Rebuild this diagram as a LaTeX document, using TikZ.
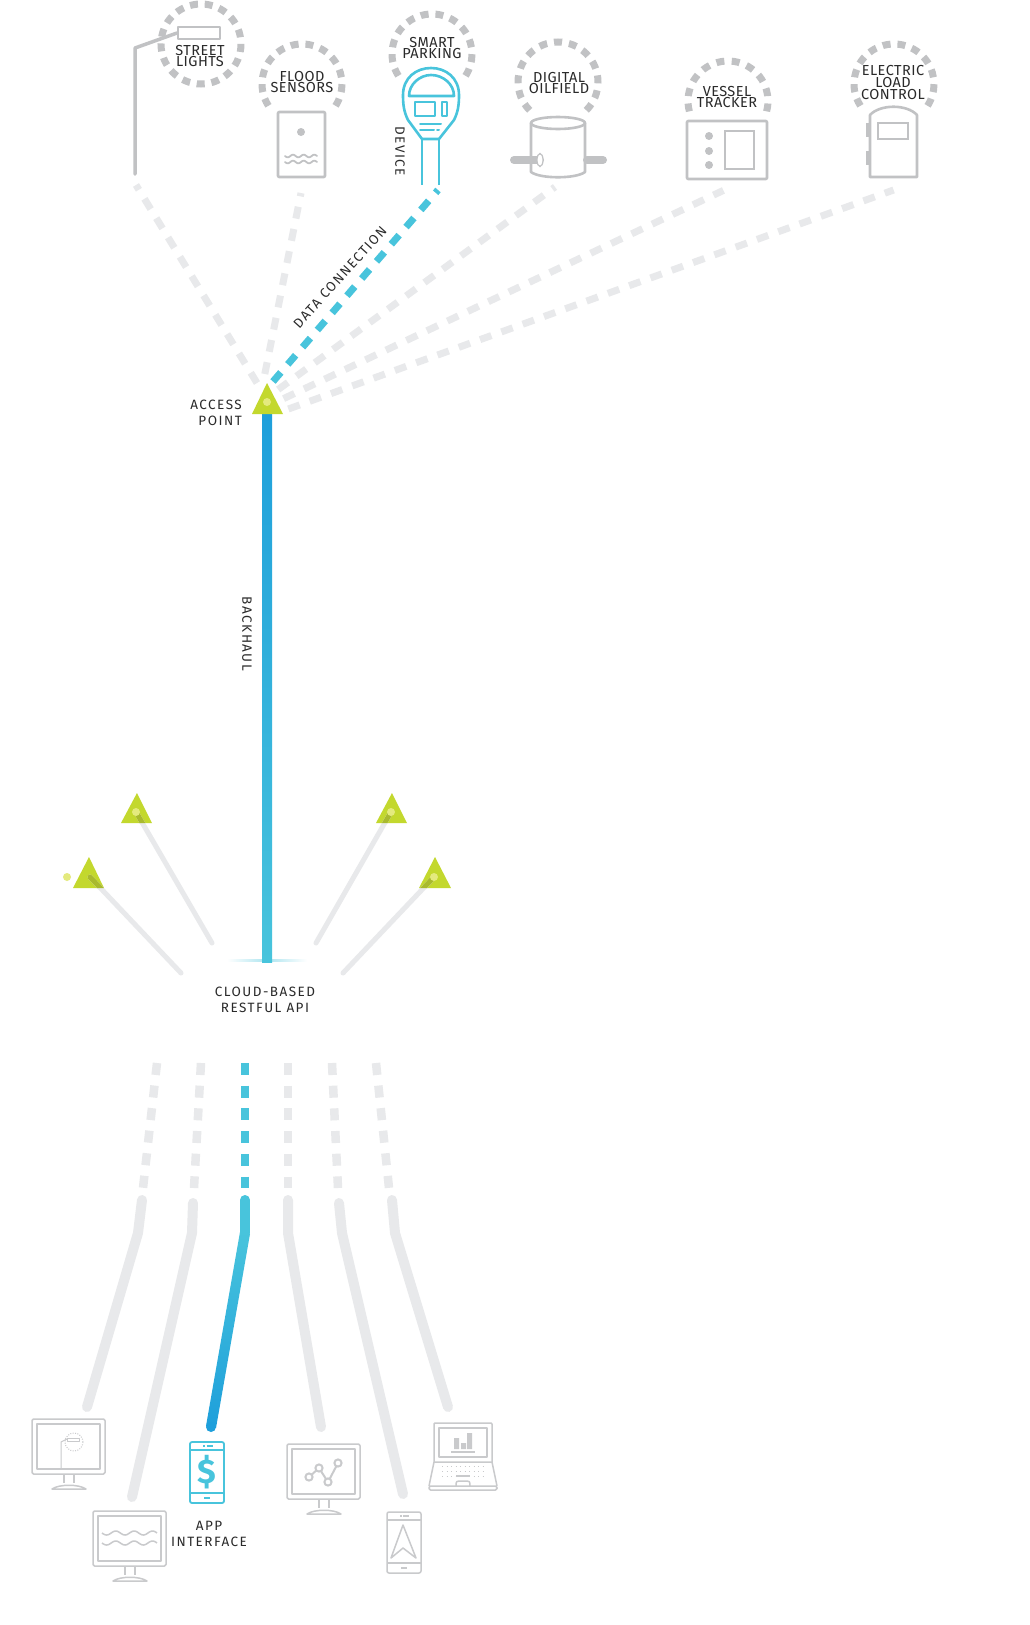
\documentclass[tikz,border=0pt]{standalone}
\usepackage{fontspec}
\setmainfont{Fira Sans}
\newfontfamily\toplab[LetterSpace=3]{Fira Sans}
\newfontfamily\sidelab[LetterSpace=11]{Fira Sans}
\definecolor{devgrey}{HTML}{C1C2C4}
\definecolor{icongrey}{HTML}{C9CACC}
\definecolor{pale}{HTML}{E8E9EB}
\definecolor{aqua}{HTML}{48C4DC}
\definecolor{deepblue}{HTML}{1E9FDB}
\definecolor{lime}{HTML}{C3D82E}
\definecolor{limedark}{HTML}{A9BA2E}
\definecolor{limedot}{HTML}{E4EA7E}
\definecolor{ink}{HTML}{2A2A2A}
\tikzset{
  halo/.style={draw=devgrey,line width=7pt},
  dev/.style={draw=devgrey,line width=2.6pt,line join=round,line cap=round},
  devblue/.style={draw=aqua,line width=2.6pt,line join=round,line cap=round},
  thin icon/.style={draw=icongrey,line width=1.5pt,line join=round},
  paledash/.style={draw=pale,line width=7pt,dash pattern=on 12pt off 10.65pt},
  bluedash/.style={draw=aqua,line width=7pt,dash pattern=on 12pt off 10.65pt},
  lowdash/.style={draw=pale,line width=8.5pt,dash pattern=on 12pt off 10.7pt},
  lowbluedash/.style={draw=aqua,line width=8.5pt,dash pattern=on 12pt off 10.7pt},
  lowline/.style={draw=pale,line width=10pt,line cap=round,line join=round},
  spoke/.style={draw=pale,line width=5pt,line cap=round},
  spokedark/.style={draw=limedark,line width=5pt,line cap=round},
  ap/.style={fill=lime,draw=none},
  apdot/.style={fill=limedot,draw=none},
  toptext/.style={font=\toplab\fontsize{14.5}{14.5}\selectfont,text=ink,inner sep=0pt,anchor=center},
  sidetext/.style={font=\sidelab\fontsize{13.5}{13.5}\selectfont,text=ink,inner sep=0pt},
}
% centre x, centre y, start angle, end angle, gap of the dash pattern
\newcommand{\haloarc}[5]{\draw[halo,dash pattern=on 8pt off #5pt] ($(#1,#2)+(#3:40)$) arc[start angle=#3,end angle=#4,radius=40];}
\newcommand{\monitorbody}[2]{%
  \begin{scope}[shift={(#1,#2)}]
    \draw[thin icon,rounded corners=1.5pt] (0,0) rectangle (73,55);
    \draw[thin icon] (5,5) rectangle (68,50);
    \draw[thin icon] (32,55) -- (32,64) (42,55) -- (42,64);
    \draw[thin icon] (20,70) .. controls (27,65) and (47,65) .. (54,70) -- cycle;
  \end{scope}}
\newcommand{\apspoke}[3]{% triangle path, from, to
  \draw[spoke] (#2) -- (#3);
  \begin{scope}
    \clip #1;
    \draw[spokedark] (#2) -- (#3);
  \end{scope}}
\usetikzlibrary{calc}
\begin{document}
\begin{tikzpicture}[x=1pt,y=-1pt]
\useasboundingbox[fill=white] (0,0) rectangle (1030,1625);

% named points
\coordinate (devLamp) at (136,185);
\coordinate (devFlood) at (301,193);
\coordinate (devPark) at (438,190);
\coordinate (devOil) at (555,187);
\coordinate (devVessel) at (723.4,190.4);
\coordinate (devLoad) at (893.6,190);
\coordinate (apLamp) at (257,383);
\coordinate (apFlood) at (264.8,374);
\coordinate (apPark) at (273,381.5);
\coordinate (apOil) at (278.2,389.5);
\coordinate (apVessel) at (283.6,398.6);
\coordinate (apLoad) at (288.4,409);
\coordinate (apMain) at (267,413);
\coordinate (cloudTop) at (267,962);
\coordinate (cloudA) at (181,973);
\coordinate (cloudB) at (212,943);
\coordinate (cloudC) at (316,943);
\coordinate (cloudD) at (343,973);

% dashed data connections
\draw[paledash] (apLamp) -- (devLamp);
\draw[paledash] (apFlood) -- (devFlood);
\draw[paledash] (apOil) -- (devOil);
\draw[paledash] (apVessel) -- (devVessel);
\draw[paledash] (apLoad) -- (devLoad);
\draw[bluedash] (apPark) -- (devPark);

% halos
\haloarc{201}{44}{0}{360}{6.78}
\haloarc{302}{84}{147}{393}{6.88}
\haloarc{432}{54}{147}{393}{6.88}
\haloarc{558}{82}{135}{405}{7.04}
\haloarc{728}{101}{165}{375}{7.4}
\haloarc{894}{84}{147}{393}{6.88}

% street light
\draw[dev,line width=3.5pt] (135,174) -- (135,48) -- (177,33);
\draw[dev,fill=white] (178,27) rectangle (220,39);
% flood sensor
\draw[dev,fill=white,rounded corners=1pt] (278,112) rectangle (325,177);
\fill[devgrey] (301,132) circle (4);
\draw[dev,line width=1.8pt] plot[domain=285:317,samples=60] (\x,{156+1.3*sin(33.75*(\x-285))});
\draw[dev,line width=1.8pt] plot[domain=285:317,samples=60] (\x,{162+1.3*sin(33.75*(\x-285))});
% parking meter
\draw[devblue,fill=white] (422,139) -- (408,120) .. controls (404,112) and (403,105) .. (403,95) .. controls (403,78) and (416,68) .. (431,68) .. controls (446,68) and (459,78) .. (459,95) .. controls (459,105) and (458,112) .. (454,120) -- (439,139) -- cycle;
\draw[devblue] (409,96) .. controls (409,84) and (420,75) .. (431,75) .. controls (443,75) and (454,84) .. (454,96) -- cycle;
\draw[devblue] (415,102) rectangle (435,116);
\draw[devblue] (442,102) rectangle (447,116);
\draw[devblue,line width=2pt] (420,124) -- (441,124) (420,130) -- (434,130) (437,130) -- (439,130);
\draw[devblue,line cap=butt] (422,139) -- (422,185) (439,139) -- (439,185);
% oilfield
\draw[dev,fill=white] (531,123) -- (531,172) .. controls (540,179) and (576,179) .. (585,172) -- (585,123);
\draw[dev,fill=white] (558,123) ellipse (27 and 6);
\draw[devgrey,line width=8pt,line cap=round] (514,160) -- (540,160);
\draw[devgrey,line width=8pt,line cap=round] (587,160) -- (603,160);
\draw[devgrey,line width=1.2pt,fill=white] (540,160) ellipse (3 and 6.5);
% vessel tracker
\draw[dev,fill=white,rounded corners=1pt] (687,121) rectangle (767,179);
\foreach \yy in {136,151,165}{\fill[devgrey] (709,\yy) circle (4);}
\draw[devgrey,line width=1.4pt] (725,131) rectangle (754,169);
% electric load
\draw[dev,fill=white] (870,177) -- (870,115) .. controls (880,104) and (907,104) .. (917,115) -- (917,177) -- cycle;
\draw[devgrey,line width=1.4pt] (878,123) rectangle (908,139);
\fill[devgrey] (866,123) rectangle (869,137);
\fill[devgrey] (866,151) rectangle (869,165);

% device labels
\node[toptext] (tStreet) at (200,51) {STREET};
\node[toptext] (tLights) at (200,62) {LIGHTS};
\node[toptext] (tFlood) at (302,77) {FLOOD};
\node[toptext] (tSensors) at (302,88) {SENSORS};
\node[toptext] (tSmart) at (432,43) {SMART};
\node[toptext] (tParking) at (432,54) {PARKING};
\node[toptext] (tDigital) at (559,78) {DIGITAL};
\node[toptext] (tOil) at (559,89) {OILFIELD};
\node[toptext] (tVessel) at (727,92) {VESSEL};
\node[toptext] (tTracker) at (727,103) {TRACKER};
\node[toptext] (tElectric) at (893,71) {ELECTRIC};
\node[toptext] (tLoad) at (893,83) {LOAD};
\node[toptext] (tControl) at (893,95) {CONTROL};
\node[sidetext,rotate=-90] (tDevice) at (400,151) {DEVICE};
\node[sidetext,rotate=48] (tData) at (340,277) {DATA CONNECTION};
\node[sidetext,anchor=east] (tAccess) at (242,404.5) {ACCESS};
\node[sidetext,anchor=east] (tPoint) at (242,421) {POINT};
\node[sidetext,rotate=-90] (tBack) at (247,634) {BACKHAUL};
\node[sidetext] (tCloud) at (265,992) {CLOUD-BASED};
\node[sidetext] (tRest) at (265,1008) {RESTFUL API};
\node[sidetext] (tApp) at (209,1526) {APP};
\node[sidetext] (tIface) at (209,1542) {INTERFACE};

% backhaul
\shade[top color=white,bottom color=white,middle color=aqua!45,shading angle=90] (227,959.5) rectangle (307,961.5);
\shade[top color=deepblue,bottom color=aqua] ($(apMain)+(-5,0)$) rectangle ($(cloudTop)+(5,0)$);

% access points
\fill[ap] (267,383) -- (283,414) -- (252,414) -- cycle;
\fill[apdot] (267,402) circle (4);
\fill[ap] (137,793) -- (152,823) -- (121,823) -- cycle;
\fill[ap] (392,793) -- (407,823) -- (376,823) -- cycle;
\fill[ap] (89,857) -- (104,888) -- (73,888) -- cycle;
\fill[ap] (435,857) -- (451,888) -- (419,888) -- cycle;
\coordinate (apA) at (90,877);
\coordinate (apB) at (136,812);
\coordinate (apC) at (391,812);
\coordinate (apD) at (434,877);
\apspoke{(89,857) -- (104,888) -- (73,888) -- cycle}{apA}{cloudA}
\apspoke{(137,793) -- (152,823) -- (121,823) -- cycle}{apB}{cloudB}
\apspoke{(392,793) -- (407,823) -- (376,823) -- cycle}{apC}{cloudC}
\apspoke{(435,857) -- (451,888) -- (419,888) -- cycle}{apD}{cloudD}
\fill[apdot] (apB) circle (4);
\fill[apdot] (apC) circle (4);
\fill[apdot] (apD) circle (4);
\fill[apdot] (67,877) circle (4);

% lower dashed runs
\coordinate (ua) at (157,1063); \coordinate (ub) at (143,1188);
\coordinate (va) at (201,1063); \coordinate (vb) at (194,1188);
\coordinate (wa) at (245,1063); \coordinate (wb) at (245,1188);
\coordinate (xa) at (288,1063); \coordinate (xb) at (288,1188);
\coordinate (ya) at (332,1063); \coordinate (yb) at (338,1188);
\coordinate (za) at (376,1063); \coordinate (zb) at (389,1188);
\draw[lowdash] (ua) -- (ub);
\draw[lowdash] (va) -- (vb);
\draw[lowbluedash] (wa) -- (wb);
\draw[lowdash] (xa) -- (xb);
\draw[lowdash] (ya) -- (yb);
\draw[lowdash] (za) -- (zb);

% lower solid runs
\coordinate (appA) at (87,1407);
\coordinate (appB) at (132,1497);
\coordinate (appC) at (211,1427);
\coordinate (appD) at (321,1427);
\coordinate (appE) at (403,1494);
\coordinate (appF) at (448,1407);
\draw[lowline] (142,1200) -- (138,1233) -- (appA);
\draw[lowline] (193,1203) -- (192,1233) -- (appB);
\draw[lowline] (288,1200) -- (288,1233) -- (appD);
\draw[lowline] (339,1203) -- (342,1233) -- (appE);
\draw[lowline] (392,1200) -- (395,1233) -- (appF);
\draw[draw=aqua,line width=10pt,line cap=round] (245,1200) -- (245,1233);
\shade[top color=aqua,bottom color=deepblue] (240,1232) -- (250,1234) -- (216,1428) -- (206,1426) -- cycle;
\fill[deepblue] (appC) circle (5);

% monitors
\monitorbody{32}{1419}
\monitorbody{93}{1511}
\monitorbody{287}{1444}
% lamp on monitor 1
\draw[thin icon,line width=1pt] (61,1469) -- (61,1442) -- (67,1439);
\draw[thin icon,line width=1pt,dash pattern=on 1pt off 1.4pt] (74,1442) circle (9);
\draw[thin icon,line width=.8pt] (67,1438) rectangle (79,1441);
% waves on monitor 2
\draw[thin icon] plot[domain=102:157,samples=70] (\x,{1533+2*sin(19.6*(\x-102))});
\draw[thin icon] plot[domain=102:157,samples=70] (\x,{1543+2*sin(19.6*(\x-102))});
% graph on monitor 3
\draw[draw=icongrey,line width=2pt] (309,1477) -- (319,1468) -- (328,1482) -- (338,1463);
\foreach \px/\py in {309/1477,319/1468,328/1482,338/1463}{\draw[draw=icongrey,line width=2pt,fill=white] (\px,\py) circle (3.6);}

% app phone (blue)
\draw[draw=aqua,line width=1.8pt,rounded corners=2pt] (190,1442) rectangle (224,1503);
\draw[draw=aqua,line width=1.5pt] (190,1450) -- (224,1450) (190,1493) -- (224,1493);
\draw[draw=aqua,line width=1.3pt] (203,1446) -- (204.5,1446) (206.5,1446) -- (213,1446);
\draw[draw=aqua,line width=1.5pt] (204,1498) -- (210,1498);
\node[inner sep=0pt,text=aqua,font=\bfseries\fontsize{34}{34}\selectfont] (dollar) at (207,1472) {\$};

% map phone
\draw[thin icon,rounded corners=2pt] (387,1512) rectangle (421,1573);
\draw[thin icon] (387,1520) -- (421,1520) (387,1563) -- (421,1563);
\draw[thin icon,line width=1.2pt] (400,1516) -- (401.5,1516) (403,1516) -- (409,1516);
\draw[thin icon] (401,1568) -- (407,1568);
\draw[thin icon] (403,1525) -- (391,1558) -- (403,1548) -- (416,1558) -- cycle;

% laptop
\draw[thin icon,rounded corners=1pt] (434,1462) -- (434,1423) -- (492,1423) -- (492,1462);
\draw[thin icon] (439,1428) rectangle (487,1457);
\draw[thin icon] (434,1462) -- (429,1486) (492,1462) -- (497,1486) (434,1462) -- (492,1462);
\draw[thin icon,rounded corners=1.5pt] (429,1486) rectangle (497,1490);
\draw[icongrey,line width=1pt,dash pattern=on 1pt off 3.5pt] (442,1466) -- (487,1466) (442,1471) -- (487,1471) (442,1476) -- (487,1476);
\draw[thin icon] (456,1476) -- (470,1476);
\draw[thin icon] (456,1486) .. controls (456,1481) and (457,1481) .. (459,1481) -- (467,1481) .. controls (469,1481) and (470,1481) .. (470,1486);
\fill[icongrey] (454,1438) rectangle (459,1449) (461,1443) rectangle (466,1449) (467,1433) rectangle (472,1449);
\draw[thin icon] (451,1452) -- (475,1452);
\end{tikzpicture}
\end{document}
